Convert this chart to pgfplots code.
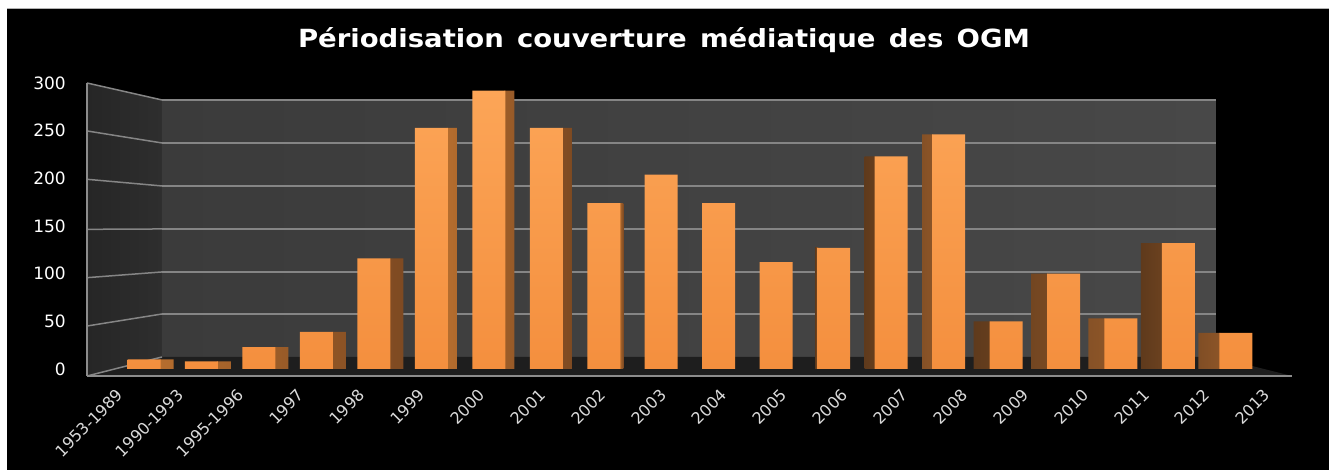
\documentclass[border=0pt]{standalone}
\usepackage{pgfplots}
\pgfplotsset{compat=1.18}
\usepackage{pgfplotstable}
\usepackage{fontspec}
\setmainfont{DejaVu Sans}
\definecolor{wallL}{HTML}{262626}
\definecolor{wallLb}{HTML}{2E2E2E}
\definecolor{wallBa}{HTML}{3B3B3B}
\definecolor{wallBb}{HTML}{484848}
\definecolor{floorc}{HTML}{1E1E1E}
\definecolor{gridc}{HTML}{858585}
\definecolor{edgec}{HTML}{8C8C8C}
\definecolor{barTop}{HTML}{FCA557}
\definecolor{barBot}{HTML}{F48F3E}
\definecolor{sideRa}{HTML}{B56D2E}
\definecolor{sideRb}{HTML}{7E4A22}
\definecolor{sideLa}{HTML}{5F3A1C}
\definecolor{sideLb}{HTML}{8C5528}
\definecolor{labc}{HTML}{DADADA}

\pgfplotstableread{
x y
0 10
1 8
2 23
3 39
4 116
5 253
6 292
7 253
8 174
9 204
10 174
11 112
12 127
13 223
14 246
15 50
16 100
17 53
18 132
19 38
}\datatable

\begin{document}
\begin{tikzpicture}[x=1pt,y=1pt]
\useasboundingbox (0,0) rectangle (1330,470);
\fill[white] (0,0) rectangle (1330,470);
\fill[black] (7,0) rectangle (1329,462);
\draw[gray!60, line width=0.8pt] (7,462) -- (1329,462);
\node[anchor=base, text=white, xscale=1.1, font=\fontsize{25}{30}\selectfont\bfseries]
  at (664,422) {Périodisation\hspace{12pt}couverture\hspace{12pt}médiatique\hspace{12pt}des\hspace{12pt}OGM};
\begin{axis}[
  at={(87pt,94pt)}, anchor=south west,
  scale only axis, width=1205pt, height=293pt,
  xmin=-0.992, xmax=19.976, ymin=-7.34, ymax=300,
  clip=false,
  axis line style={draw=none},
  tick style={draw=none},
  ybar,
  /pgf/number format/assume math mode=true,
  ytick={0,50,100,150,200,250,300},
  yticklabel style={anchor=east, inner sep=0pt, text=white, font=\fontsize{17}{17}\selectfont},
  yticklabel shift=21pt,
  xtick={-0.418,0.633,1.683,2.734,3.784,4.835,5.885,6.936,7.986,9.037,10.087,11.138,12.188,13.239,14.289,15.340,16.390,17.441,18.491,19.542},
  xticklabels={1953-1989,1990-1993,1995-1996,1997,1998,1999,2000,2001,2002,2003,2004,2005,2006,2007,2008,2009,2010,2011,2012,2013},
  xticklabel style={rotate=45, anchor=east, inner sep=0pt, text=labc, font=\fontsize{16}{16}\selectfont},
  xticklabel shift=12pt,
]
% walls and floor
\fill[left color=wallL, right color=wallLb] (axis cs:-0.992,-7.34) -- (axis cs:-0.992,300) -- (axis cs:0.313,282.2) -- (axis cs:0.313,12.6) -- cycle;
\fill[left color=wallBa, right color=wallBb] (axis cs:0.313,12.6) rectangle (axis cs:18.653,282.2);
\fill[floorc] (axis cs:-0.992,-7.34) -- (axis cs:19.976,-7.34) -- (axis cs:18.653,12.6) -- (axis cs:0.313,12.6) -- cycle;
% back wall grid
\draw[gridc, line width=1.5pt] (axis cs:0.313,57.7) -- (axis cs:18.653,57.7);
\draw[gridc, line width=1.5pt] (axis cs:0.313,101.8) -- (axis cs:18.653,101.8);
\draw[gridc, line width=1.5pt] (axis cs:0.313,146.9) -- (axis cs:18.653,146.9);
\draw[gridc, line width=1.5pt] (axis cs:0.313,192.0) -- (axis cs:18.653,192.0);
\draw[gridc, line width=1.5pt] (axis cs:0.313,237.1) -- (axis cs:18.653,237.1);
\draw[gridc, line width=1.5pt] (axis cs:0.313,282.2) -- (axis cs:18.653,282.2);
% left wall grid
\draw[gridc, line width=1.5pt] (axis cs:-0.992,-7.34) -- (axis cs:0.313,12.6);
\draw[gridc, line width=1.5pt] (axis cs:-0.992,45.1) -- (axis cs:0.313,57.7);
\draw[gridc, line width=1.5pt] (axis cs:-0.992,95.8) -- (axis cs:0.313,101.8);
\draw[gridc, line width=1.5pt] (axis cs:-0.992,146.5) -- (axis cs:0.313,146.9);
\draw[gridc, line width=1.5pt] (axis cs:-0.992,199.0) -- (axis cs:0.313,192.0);
\draw[gridc, line width=1.5pt] (axis cs:-0.992,249.7) -- (axis cs:0.313,237.1);
\draw[gridc, line width=1.5pt] (axis cs:-0.992,300) -- (axis cs:0.313,282.2);
% edges
\draw[edgec, line width=2pt] (axis cs:-0.992,-7.34) -- (axis cs:-0.992,300);
\draw[edgec, line width=2pt] (axis cs:-0.992,-7.34) -- (axis cs:19.976,-7.34);
% side faces
\addplot[draw=none, bar width=14pt, bar shift=22.5pt, left color=sideRa, right color=sideRb, restrict x to domain=0:4] table[x=x,y=y] {\datatable};
\addplot[draw=none, bar width=10pt, bar shift=20.5pt, left color=sideRa, right color=sideRb, restrict x to domain=5:7] table[x=x,y=y] {\datatable};
\addplot[draw=none, bar width=4pt, bar shift=17.5pt, left color=sideRa, right color=sideRb, restrict x to domain=8:8] table[x=x,y=y] {\datatable};
\addplot[draw=none, bar width=3pt, bar shift=-17pt, left color=sideLa, right color=sideLb, restrict x to domain=12:12] table[x=x,y=y] {\datatable};
\addplot[draw=none, bar width=11pt, bar shift=-21pt, left color=sideLa, right color=sideLb, restrict x to domain=13:14] table[x=x,y=y] {\datatable};
\addplot[draw=none, bar width=17pt, bar shift=-24pt, left color=sideLa, right color=sideLb, restrict x to domain=15:17] table[x=x,y=y] {\datatable};
\addplot[draw=none, bar width=22pt, bar shift=-26.5pt, left color=sideLa, right color=sideLb, restrict x to domain=18:19] table[x=x,y=y] {\datatable};
% front faces
\addplot[draw=none, bar width=33pt, bar shift=0pt, top color=barTop, bottom color=barBot] table[x=x,y=y] {\datatable};
\end{axis}
\end{tikzpicture}
\end{document}
